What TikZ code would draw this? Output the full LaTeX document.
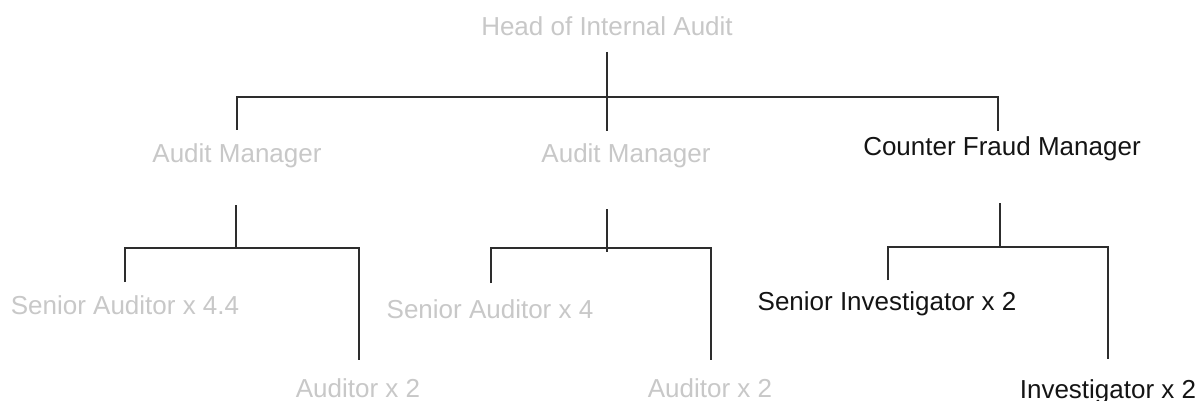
\documentclass[tikz,border=0pt]{standalone}
\usepackage{fontspec}
\setmainfont{Liberation Sans}
\definecolor{faded}{RGB}{200,200,200}
\definecolor{ink}{RGB}{20,20,20}
\definecolor{wire}{RGB}{45,45,45}
\tikzset{
  role/.style={anchor=base, inner sep=0pt, font=\fontsize{26}{31}\selectfont},
  old/.style={role, text=faded},
  cur/.style={role, text=ink},
  link/.style={draw=wire, line width=1.4pt},
}
\begin{document}
\begin{tikzpicture}[x=1pt,y=-1pt]
\useasboundingbox[fill=white] (0,0) rectangle (1200,401);
% nodes
\node[old] (head) at (607,36) {Head of Internal Audit};
\node[old] (am1) at (237,163) {Audit Manager};
\node[old] (am2) at (626,163) {Audit Manager};
\node[cur] (cfm) at (1002,156) {Counter Fraud Manager};
\node[old] (sa1) at (125,314) {Senior Auditor x 4.4};
\node[old] (au1) at (358,397) {Auditor x 2};
\node[old] (sa2) at (490,318) {Senior Auditor x 4};
\node[old] (au2) at (710,397) {Auditor x 2};
\node[cur] (si) at (887,310) {Senior Investigator x 2};
\node[cur] (inv) at (1108,398) {Investigator x 2};
% coordinates of the connector ends
\coordinate (h0) at (607,52);
\coordinate (h1) at (607,131);
\coordinate (b0l) at (237,97);
\coordinate (b0r) at (998,97);
\coordinate (t1) at (237,130);
\coordinate (t3) at (998,131);
% level 1
\draw[link] (h0) -- (h1);
\draw[link] (t1) -- (b0l) -- (b0r) -- (t3);
% left manager
\coordinate (m1a) at (236,205);
\coordinate (m1b) at (236,248);
\coordinate (m1l) at (125,282);
\coordinate (m1r) at (359,360);
\draw[link] (m1a) -- (m1b);
\draw[link] (m1l) |- (m1b) -| (m1r);
% middle manager
\coordinate (m2a) at (607,209);
\coordinate (m2b) at (607,252);
\coordinate (m2l) at (491,283);
\coordinate (m2r) at (711,360);
\draw[link] (m2a) -- (m2b);
\draw[link] (m2l) |- (m2b |- 0,248) -| (m2r);
% counter fraud manager
\coordinate (m3a) at (1000,203);
\coordinate (m3b) at (1000,247);
\coordinate (m3l) at (888,280);
\coordinate (m3r) at (1108,359);
\draw[link] (m3a) -- (m3b);
\draw[link] (m3l) |- (m3b) -| (m3r);
\end{tikzpicture}
\end{document}
